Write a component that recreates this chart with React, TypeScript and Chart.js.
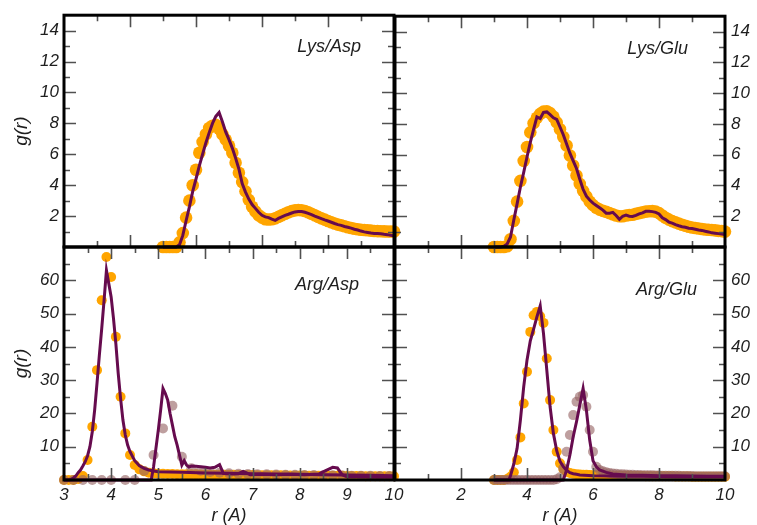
import { useEffect, useRef } from 'react';
import { Chart, registerables } from 'chart.js';

Chart.register(...registerables);

const FONT = "'Liberation Sans', Arial, Helvetica, sans-serif";
const ORANGE = '#ffa500';
const PLUM = '#660b4e';
const ROSE = 'rgba(150, 100, 100, 0.62)';
const TEXT = '#1e1e1e';
const W = 757;
const H = 525;

// radial distance grid (Å) for the densely sampled curves
const rGrid = [
  3.0, 3.1, 3.2, 3.3, 3.4, 3.5, 3.6, 3.7, 3.8, 3.9,
  4.0, 4.1, 4.2, 4.3, 4.4, 4.5, 4.6, 4.7, 4.8, 4.9,
  5.0, 5.1, 5.2, 5.3, 5.4, 5.5, 5.6, 5.7, 5.8, 5.9,
  6.0, 6.1, 6.2, 6.3, 6.4, 6.5, 6.6, 6.7, 6.8, 6.9,
  7.0, 7.1, 7.2, 7.3, 7.4, 7.5, 7.6, 7.7, 7.8, 7.9,
  8.0, 8.1, 8.2, 8.3, 8.4, 8.5, 8.6, 8.7, 8.8, 8.9,
  9.0, 9.1, 9.2, 9.3, 9.4, 9.5, 9.6, 9.7, 9.8, 9.9, 10.0,
];

// Lys/Asp
const lysAspDots = [
  0, 0, 0, 0, 0, 0.3, 0.9, 1.9, 3.0, 4.0,
  5.0, 6.1, 6.8, 7.3, 7.7, 7.85, 7.9, 7.65, 7.3, 6.95,
  6.55, 6.1, 5.45, 4.8, 4.2, 3.6, 3.05, 2.6, 2.3, 2.05,
  1.9, 1.8, 1.78, 1.8, 1.85, 1.95, 2.05, 2.15, 2.25, 2.32,
  2.37, 2.39, 2.38, 2.33, 2.25, 2.15, 2.05, 1.95, 1.85, 1.77,
  1.68, 1.6, 1.52, 1.45, 1.4, 1.34, 1.28, 1.23, 1.18, 1.15,
  1.12, 1.1, 1.08, 1.06, 1.04, 1.03, 1.02, 1.01, 1.0, 1.0, 1.0,
];
const lysAspLine = [
  0, 0, 0, 0, 0, 0.15, 0.75, 1.7, 2.6, 3.6,
  4.4, 5.25, 6.0, 6.75, 7.4, 8.0, 8.45, 8.7, 8.1, 7.45,
  6.95, 6.4, 5.75, 5.05, 4.1, 3.55, 3.1, 2.75, 2.5, 2.25,
  2.05, 1.95, 1.9, 1.8, 1.72, 1.85, 1.95, 2.05, 2.12, 2.2,
  2.27, 2.3, 2.3, 2.25, 2.18, 2.1, 2.0, 1.92, 1.83, 1.75,
  1.68, 1.6, 1.52, 1.45, 1.4, 1.33, 1.28, 1.22, 1.15, 1.1,
  1.03, 0.98, 0.94, 0.9, 0.88, 0.87, 0.85, 0.82, 0.8, 0.76, 0.72,
];

// Lys/Glu
const lysGluDots = [
  0, 0, 0, 0, 0.05, 0.5, 1.7, 2.95, 4.3, 5.6,
  6.5, 7.45, 8.05, 8.4, 8.65, 8.8, 8.82, 8.7, 8.47, 8.1,
  7.65, 7.15, 6.6, 5.95, 5.3, 4.65, 4.1, 3.65, 3.28, 2.95,
  2.72, 2.55, 2.43, 2.35, 2.28, 2.2, 2.12, 2.05, 2.0, 2.0,
  2.05, 2.08, 2.1, 2.15, 2.2, 2.25, 2.3, 2.32, 2.33, 2.3,
  2.2, 2.05, 1.9, 1.78, 1.68, 1.6, 1.52, 1.45, 1.38, 1.32,
  1.27, 1.23, 1.2, 1.17, 1.14, 1.12, 1.1, 1.08, 1.05, 1.03, 1.0,
];
const lysGluLine = [
  0, 0, 0, 0.05, 0.2, 0.65, 1.75, 2.8, 3.9, 4.85,
  5.85, 6.8, 7.65, 8.45, 8.35, 8.75, 8.78, 8.6, 8.4, 8.3,
  7.8, 7.3, 6.7, 6.1, 5.6, 5.1, 4.4, 3.75, 3.3, 3.05,
  2.85, 2.7, 2.55, 2.4, 2.2, 2.2, 2.25, 2.05, 1.8, 2.0,
  2.07, 2.0, 1.98, 2.05, 2.15, 2.22, 2.32, 2.33, 2.3, 2.25,
  2.15, 1.9, 1.78, 1.62, 1.55, 1.45, 1.38, 1.32, 1.28, 1.22,
  1.2, 1.15, 1.1, 1.08, 1.02, 0.98, 0.92, 0.9, 0.87, 0.84, 0.82,
];

// Arg/Asp
const argAspDotsA = [
  0, 0, 0, 0.3, 1.2, 6, 16, 33, 54, 67,
  61, 43, 25, 14, 7.5, 4.5, 3.2, 2.6, 2.2, 2.0,
  1.9, 1.85, 1.8, 1.8, 1.75, 1.75, 1.7, 1.7, 1.7, 1.65,
  1.65, 1.6, 1.6, 1.6, 1.55, 1.55, 1.55, 1.5, 1.5, 1.5,
  1.5, 1.45, 1.45, 1.45, 1.4, 1.4, 1.4, 1.4, 1.35, 1.35,
  1.35, 1.35, 1.3, 1.3, 1.3, 1.3, 1.25, 1.25, 1.25, 1.25,
  1.2, 1.2, 1.2, 1.2, 1.15, 1.15, 1.15, 1.15, 1.1, 1.1, 1.1,
];
const rArgAspDotsB = [
  3.0, 3.2, 3.4, 3.6, 3.8, 4.0, 4.3, 4.5, 4.7, 4.9,
  5.1, 5.3, 5.5, 5.7, 5.9, 6.1, 6.3, 6.5, 6.7, 6.9,
  7.1, 7.3, 7.5, 7.7, 7.9, 8.1, 8.3, 8.5, 8.7, 8.9,
  9.1, 9.3, 9.5, 9.7, 9.9,
];
const argAspDotsB = [
  0, 0, 0, 0, 0, 0, 0, 0, 2.7, 7.5,
  15.5, 22.3, 7, 3.5, 2.8, 2.4, 2.2, 2.0, 1.9, 1.8,
  1.75, 1.7, 1.65, 1.6, 1.55, 1.5, 1.5, 1.45, 1.4, 1.35,
  1.3, 1.3, 1.25, 1.2, 1.2,
];
const rArgAspLineA = [
  3.0, 3.1, 3.15, 3.2, 3.25, 3.3, 3.35, 3.4, 3.45, 3.5,
  3.55, 3.6, 3.65, 3.7, 3.75, 3.8, 3.85, 3.9, 3.95, 4.0,
  4.05, 4.1, 4.15, 4.2, 4.25, 4.3, 4.35, 4.4, 4.5, 4.6,
  4.7, 4.8, 4.9, 5.0, 5.5, 6.0, 6.5, 7.0, 7.5, 8.0,
  8.5, 9.0, 9.5, 10.0,
];
const argAspLineA = [
  0, 0, 0.2, 0.6, 1.2, 2.2, 3.0, 4.2, 5.5, 7.3,
  10, 14.5, 21, 29, 37.5, 45.5, 54, 63, 59, 55,
  48.5, 41, 32, 24.5, 18, 13.5, 10.5, 8.5, 5.8, 4.3,
  3.5, 3.0, 2.7, 2.5, 2.3, 2.1, 2.0, 1.9, 1.8, 1.7,
  1.6, 1.5, 1.4, 1.3,
];
const rArgAspLineB = [
  3.0, 4.85, 4.9, 4.95, 5.0, 5.05, 5.1, 5.15, 5.2, 5.25,
  5.3, 5.35, 5.4, 5.45, 5.5, 5.55, 5.6, 5.65, 5.7, 5.8,
  5.9, 6.0, 6.1, 6.2, 6.3, 6.38, 6.45, 6.6, 6.7, 6.8,
  6.85, 6.95, 7.2, 7.5, 7.8, 8.1, 8.4, 8.55, 8.7, 8.8,
  8.9, 9.0, 9.3, 9.6, 10.0,
];
const argAspLineB = [
  0, 0, 4, 9.5, 15, 21, 27.5, 26, 24, 20,
  16.5, 13, 10.5, 7.5, 4.5, 5.8, 4.5, 3.9, 4.2, 4.1,
  4.0, 3.8, 3.6, 3.8, 4.6, 2.0, 1.9, 1.8, 1.9, 2.6,
  2.3, 1.6, 1.7, 1.6, 1.7, 1.6, 1.8, 2.8, 3.8, 3.6,
  1.6, 1.0, 0.9, 0.85, 0.8,
];

// Arg/Glu
const argGluDotsA = [
  0, 0, 0, 0, 0.3, 1.0, 2.3, 6, 12.8, 23,
  32.5, 44.5, 49.5, 50.5, 49.2, 47.2, 36.5, 24, 15, 8.5,
  5, 3.3, 2.5, 2.1, 1.9, 1.75, 1.65, 1.6, 1.55, 1.5,
  1.45, 1.45, 1.4, 1.4, 1.35, 1.35, 1.3, 1.3, 1.3, 1.25,
  1.25, 1.25, 1.2, 1.2, 1.2, 1.2, 1.15, 1.15, 1.15, 1.15,
  1.1, 1.1, 1.1, 1.1, 1.1, 1.05, 1.05, 1.05, 1.05, 1.05,
  1.0, 1.0, 1.0, 1.0, 1.0, 1.0, 1.0, 1.0, 1.0, 1.0, 1.0,
];
const argGluDotsB = [
  0, 0, 0, 0, 0, 0, 0, 0, 0, 0,
  0, 0, 0, 0, 0, 0, 0, 0, 0, 0.2,
  0.8, 3.5, 8.5, 13.5, 19.5, 23.5, 25, 25.5, 22, 15,
  8.5, 4, 3, 2.6, 2.3, 2.1, 1.95, 1.85, 1.75, 1.7,
  1.65, 1.6, 1.55, 1.5, 1.5, 1.45, 1.45, 1.4, 1.4, 1.35,
  1.35, 1.3, 1.3, 1.3, 1.25, 1.25, 1.25, 1.2, 1.2, 1.2,
  1.2, 1.15, 1.15, 1.15, 1.15, 1.1, 1.1, 1.1, 1.1, 1.1, 1.1,
];
const rArgGluLineA = [
  3.0, 3.45, 3.5, 3.6, 3.7, 3.8, 3.9, 4.0, 4.1, 4.2,
  4.3, 4.4, 4.5, 4.6, 4.7, 4.8, 4.9, 5.0, 5.1, 5.2,
  5.3, 5.4, 5.5, 5.6, 6.0, 6.5, 7.0, 7.5, 8.0, 8.5,
  9.0, 9.5, 10.0,
];
const argGluLineA = [
  0, 0, 1.3, 4.8, 9.5, 18, 28, 36, 41.8, 45.3,
  49, 52.3, 44, 33, 22, 14, 8.8, 5.6, 4, 2.9,
  2.2, 1.9, 1.7, 1.5, 1.3, 1.2, 1.15, 1.1, 1.05, 1.0,
  1.0, 0.95, 0.95,
];
const rArgGluLineB = [
  3.0, 5.1, 5.2, 5.3, 5.4, 5.5, 5.6, 5.7, 5.8, 5.9,
  6.0, 6.1, 6.2, 6.4, 6.6, 7.0, 7.5, 8.0, 8.5, 9.0,
  9.5, 10.0,
];
const argGluLineB = [
  0, 0, 3, 7.5, 13, 17.5, 22.5, 27.5, 21, 12,
  5.8, 4, 3, 2.3, 1.8, 1.5, 1.4, 1.3, 1.25, 1.2,
  1.15, 1.1,
];

type Kind = 'dotsA' | 'dotsB' | 'line';
type Series = { r: number[]; g: number[]; kind: Kind };
type Panel = {
  label: string;
  side: 'left' | 'right';
  row: 'top' | 'bottom';
  area: { left: number; top: number; right: number; bottom: number };
  xMin: number;
  xMax: number;
  xStep: number;
  xMajor: number;
  yMax: number;
  yStep: number;
  yMajor: number;
  dotR: number;
  labelDx: number;
  labelDy: number;
  series: Series[];
};

const panels: Panel[] = [
  {
    label: 'Lys/Asp', side: 'left', row: 'top',
    area: { left: 64, top: 15, right: 394, bottom: 247 },
    xMin: 0, xMax: 10, xStep: 1, xMajor: 2, yMax: 15, yStep: 1, yMajor: 2,
    dotR: 6.3, labelDx: 33, labelDy: 37,
    series: [
      { r: rGrid, g: lysAspDots, kind: 'dotsA' },
      { r: rGrid, g: lysAspLine, kind: 'line' },
    ],
  },
  {
    label: 'Lys/Glu', side: 'right', row: 'top',
    area: { left: 395, top: 15, right: 725, bottom: 247 },
    xMin: 0, xMax: 10, xStep: 1, xMajor: 2, yMax: 15, yStep: 1, yMajor: 2,
    dotR: 6.3, labelDx: 37, labelDy: 38,
    series: [
      { r: rGrid, g: lysGluDots, kind: 'dotsA' },
      { r: rGrid, g: lysGluLine, kind: 'line' },
    ],
  },
  {
    label: 'Arg/Asp', side: 'left', row: 'bottom',
    area: { left: 64, top: 247, right: 394, bottom: 480 },
    xMin: 3, xMax: 10, xStep: 0.5, xMajor: 1, yMax: 70, yStep: 5, yMajor: 10,
    dotR: 5, labelDx: 35, labelDy: 43,
    series: [
      { r: rGrid, g: argAspDotsA, kind: 'dotsA' },
      { r: rArgAspDotsB, g: argAspDotsB, kind: 'dotsB' },
      { r: rArgAspLineA, g: argAspLineA, kind: 'line' },
      { r: rArgAspLineB, g: argAspLineB, kind: 'line' },
    ],
  },
  {
    label: 'Arg/Glu', side: 'right', row: 'bottom',
    area: { left: 395, top: 247, right: 725, bottom: 480 },
    xMin: 0, xMax: 10, xStep: 1, xMajor: 2, yMax: 70, yStep: 5, yMajor: 10,
    dotR: 5, labelDx: 28, labelDy: 48,
    series: [
      { r: rGrid, g: argGluDotsA, kind: 'dotsA' },
      { r: rGrid, g: argGluDotsB, kind: 'dotsB' },
      { r: rArgGluLineA, g: argGluLineA, kind: 'line' },
      { r: rArgGluLineB, g: argGluLineB, kind: 'line' },
    ],
  },
];

const isMultiple = (v: number, m: number) => Math.abs(v / m - Math.round(v / m)) < 1e-6;

// Thick frame, inward major/minor ticks on all four edges, and the panel caption
const panelFrame = {
  id: 'panelFrame',
  afterDatasetsDraw(chart: any, _args: any, opts: any) {
    const { ctx, chartArea: a, scales } = chart;
    const xs = scales.x;
    const ys = scales.y;
    ctx.save();
    ctx.strokeStyle = '#505050';
    ctx.lineWidth = 1.6;
    ctx.beginPath();
    const nx = Math.round((opts.xMax - opts.xMin) / opts.xStep);
    for (let k = 1; k < nx; k++) {
      const v = opts.xMin + k * opts.xStep;
      const px = Math.round(xs.getPixelForValue(v)) + 0.5;
      const len = isMultiple(v, opts.xMajor) ? 12 : 6;
      ctx.moveTo(px, a.bottom);
      ctx.lineTo(px, a.bottom - len);
      ctx.moveTo(px, a.top);
      ctx.lineTo(px, a.top + len);
    }
    const ny = Math.round(opts.yMax / opts.yStep);
    for (let k = 1; k < ny; k++) {
      const v = k * opts.yStep;
      const py = Math.round(ys.getPixelForValue(v)) + 0.5;
      const len = isMultiple(v, opts.yMajor) ? 12 : 6;
      ctx.moveTo(a.left, py);
      ctx.lineTo(a.left + len, py);
      ctx.moveTo(a.right, py);
      ctx.lineTo(a.right - len, py);
    }
    ctx.stroke();

    ctx.strokeStyle = '#000';
    ctx.lineWidth = 3;
    ctx.strokeRect(a.left, a.top, a.right - a.left, a.bottom - a.top);

    ctx.fillStyle = TEXT;
    ctx.font = `italic 18px ${FONT}`;
    ctx.textAlign = 'right';
    ctx.textBaseline = 'alphabetic';
    ctx.fillText(opts.label, a.right - opts.labelDx, a.top + opts.labelDy);
    ctx.restore();
  },
};

function buildConfig(p: Panel): any {
  const tickFont = { family: FONT, size: 17, style: 'italic' as const };
  const datasets = p.series.map((s) => {
    const isLine = s.kind === 'line';
    const fill = s.kind === 'dotsB' ? ROSE : ORANGE;
    return {
      data: s.r.map((x, i) => ({ x, y: s.g[i] })),
      showLine: isLine,
      borderColor: isLine ? PLUM : fill,
      borderWidth: isLine ? 3 : 0,
      backgroundColor: fill,
      pointRadius: isLine ? 0 : p.dotR,
      pointBackgroundColor: fill,
      pointBorderWidth: 0,
      tension: 0,
      clip: false,
      order: isLine ? 0 : s.kind === 'dotsB' ? 1 : 2,
    };
  });
  const leftSide = p.side === 'left';
  const bottomRow = p.row === 'bottom';
  return {
    type: 'scatter',
    data: { datasets },
    plugins: [panelFrame],
    options: {
      responsive: false,
      animation: false,
      devicePixelRatio: 1,
      events: [],
      layout: {
        padding: {
          left: leftSide ? 0 : p.area.left,
          right: leftSide ? W - p.area.right : 0,
          top: p.area.top,
          bottom: bottomRow ? 0 : H - p.area.bottom,
        },
      },
      plugins: {
        legend: { display: false },
        tooltip: { enabled: false },
        panelFrame: {
          label: p.label,
          labelDx: p.labelDx,
          labelDy: p.labelDy,
          xMin: p.xMin,
          xMax: p.xMax,
          xStep: p.xStep,
          xMajor: p.xMajor,
          yMax: p.yMax,
          yStep: p.yStep,
          yMajor: p.yMajor,
        },
      },
      scales: {
        x: {
          type: 'linear',
          position: 'bottom',
          min: p.xMin,
          max: p.xMax,
          display: bottomRow,
          grid: { display: false, drawTicks: false },
          border: { display: false },
          ticks: {
            stepSize: p.xStep,
            autoSkip: false,
            maxRotation: 0,
            maxTicksLimit: 100,
            padding: 5,
            font: tickFont,
            color: TEXT,
            callback: (v: number) => (isMultiple(v, p.xMajor) && v !== 0 ? String(v) : ''),
          },
          title: {
            display: bottomRow,
            text: 'r (A)',
            color: TEXT,
            font: { family: FONT, size: 18, style: 'italic', lineHeight: 1 },
            padding: { top: 0, bottom: 0 },
          },
          afterFit: (s: any) => {
            s.height = bottomRow ? H - p.area.bottom : 0;
          },
        },
        y: {
          type: 'linear',
          position: p.side,
          min: 0,
          max: p.yMax,
          grid: { display: false, drawTicks: false },
          border: { display: false },
          ticks: {
            stepSize: p.yStep,
            autoSkip: false,
            maxTicksLimit: 100,
            padding: leftSide ? 5 : 6,
            font: tickFont,
            color: TEXT,
            callback: (v: number) =>
              isMultiple(v, p.yMajor) && v !== 0 && v !== p.yMax ? String(v) : '',
          },
          title: {
            display: leftSide,
            text: 'g(r)',
            color: TEXT,
            font: { family: FONT, size: 19, style: 'italic', lineHeight: 1 },
            padding: { top: 12.5, bottom: 0 },
          },
          afterFit: (s: any) => {
            s.width = leftSide ? p.area.left : W - p.area.right;
          },
        },
      },
    },
  };
}

function PanelCanvas({ panel }: { panel: Panel }) {
  const ref = useRef<HTMLCanvasElement | null>(null);
  useEffect(() => {
    if (!ref.current) return;
    const chart = new Chart(ref.current, buildConfig(panel));
    return () => chart.destroy();
  }, [panel]);
  return (
    <canvas
      ref={ref}
      width={W}
      height={H}
      style={{ position: 'absolute', left: 0, top: 0, width: W, height: H }}
    />
  );
}

export default function App() {
  return (
    <div
      style={{
        position: 'absolute',
        left: 0,
        top: 0,
        width: W,
        height: H,
        background: '#fff',
        overflow: 'hidden',
      }}
    >
      {panels.map((p) => (
        <PanelCanvas key={p.label} panel={p} />
      ))}
    </div>
  );
}
